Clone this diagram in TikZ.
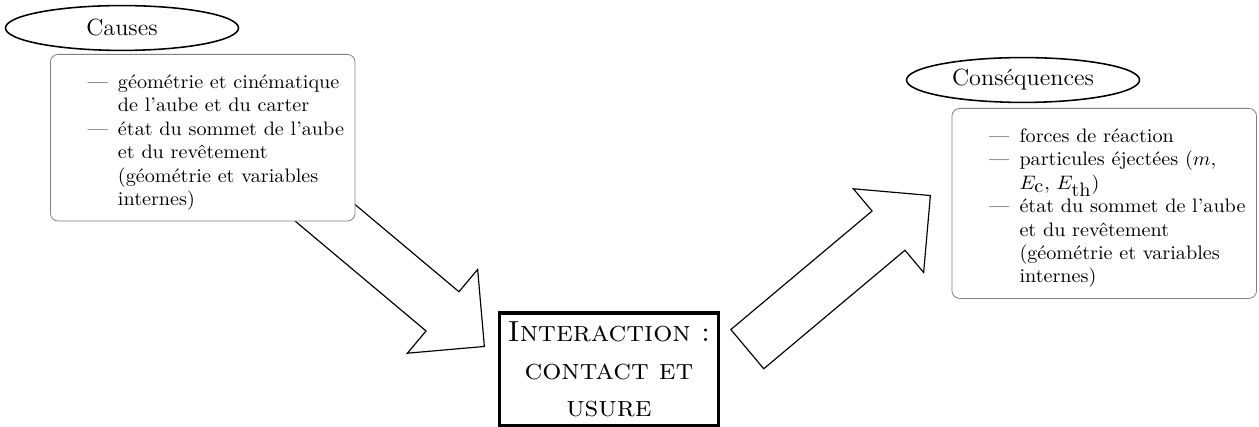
\documentclass[tikz,border=0pt]{standalone}
\usepackage{tikz}
\usetikzlibrary{positioning,calc,shapes,shapes.arrows,backgrounds}

\tikzset{
  etire/.style={xscale=1.035},
  bulle/.style={ellipse, draw, thick, etire, minimum width=115.5pt,
    minimum height=23pt, inner sep=0pt, font=\large},
  liste/.style={draw=gray, rounded corners, fill=white, etire, text width=143pt,
    inner xsep=4pt, inner ysep=5.5pt, align=left, anchor=north west},
  fleche/.style={single arrow, draw, semithick, fill=white, anchor=tip,
    minimum height=122.6pt, inner xsep=0pt, inner ysep=12.83pt,
    single arrow head extend=14.9pt},
}

% liste avec tirets
\newenvironment{tirets}{%
  \begin{list}{---}{%
    \setlength{\leftmargin}{29.5pt}\setlength{\labelsep}{5pt}%
    \setlength{\labelwidth}{24.5pt}\setlength{\topsep}{0pt}%
    \setlength{\partopsep}{0pt}\setlength{\itemsep}{0pt}%
    \setlength{\parsep}{0pt}}\raggedright}{\end{list}}

\begin{document}
\begin{tikzpicture}[x=0.513pt, y=0.513pt]
    % 画布大小
    \useasboundingbox (0,0) rectangle (1259,427);

    % 原因
    \node[bulle] (causes) at (122,399) {Causes};
    \node[liste] (causesbox) at (50,373) {%
      \begin{tirets}
        \item géométrie et cinématique de l'aube et du carter
        \item état du sommet de l'aube et du revêtement (géométrie et variables internes)
      \end{tirets}};

    % 后果
    \node[bulle] (consq) at (1023,347) {Conséquences};
    \node[liste] (consqbox) at (951.5,319) {%
      \begin{tirets}
        \item forces de réaction
        \item particules éjectées ($m$, $E_{\mbox{c}}$, $E_{\mbox{th}}$)
        \item état du sommet de l'aube et du revêtement (géométrie et variables internes)
      \end{tirets}};

    % 相互作用
    \node[draw, ultra thick, fill=white, etire, text width=104pt, minimum height=58pt,
      inner xsep=2.2pt, align=center,
      font=\fontsize{14.9}{19.3}\selectfont\scshape] (inter) at (609,57.5)
      {Interaction~:\\ contact et\\ usure};

    % 箭头
    \coordinate (tipin) at (485,80);
    \coordinate (tipout) at (931,232);
    \begin{scope}[on background layer]
      \node[fleche, rotate=-40] (arrowin) at (tipin) {};
      \node[fleche, rotate=40] (arrowout) at (tipout) {};
    \end{scope}
\end{tikzpicture}
\end{document}
